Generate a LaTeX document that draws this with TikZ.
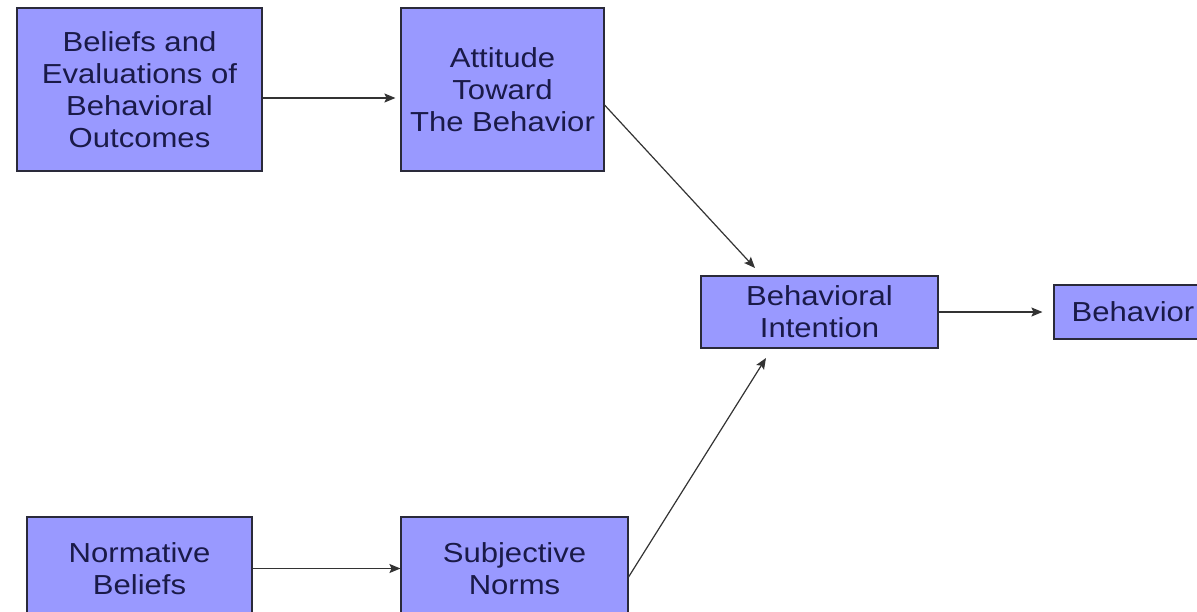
\documentclass[tikz,border=0pt]{standalone}
\usepackage{fontspec}
\setmainfont{Liberation Sans}[FakeStretch=1.13]
\usetikzlibrary{arrows.meta,calc}
\definecolor{boxfill}{HTML}{9999FF}
\definecolor{boxtext}{HTML}{1A1A48}
\definecolor{boxline}{HTML}{2A2A3A}
\definecolor{arrowline}{HTML}{333333}
\tikzset{
  tpbbox/.style={draw=boxline, line width=1.1pt, fill=boxfill, text=boxtext,
    align=center, inner sep=0pt,
    font=\fontsize{27.5pt}{32pt}\selectfont},
  tpbarrow/.style={draw=arrowline, line width=1.2pt,
    -{Stealth[length=11pt,width=9pt,inset=2pt]}}
}
\begin{document}
\begin{tikzpicture}[x=1pt,y=-1pt]
\useasboundingbox (0,0) rectangle (1197,611);
\clip (0,0) rectangle (1197,611);
\fill[white] (0,0) rectangle (1197,611);
\node[tpbbox, minimum width=245pt, minimum height=163pt] (beliefs) at (139.5,89.5)
  {Beliefs and\\Evaluations of\\Behavioral\\Outcomes};
\node[tpbbox, minimum width=203pt, minimum height=163pt] (attitude) at (502.5,89.5)
  {Attitude\\Toward\\The Behavior};
\node[tpbbox, minimum width=237pt, minimum height=72pt] (intention) at (819.5,312)
  {Behavioral\\Intention};
\node[tpbbox, minimum width=158pt, minimum height=54pt] (behavior) at (1133,312)
  {Behavior};
\node[tpbbox, minimum width=225pt, minimum height=103pt] (normative) at (139.5,568.5)
  {Normative\\Beliefs};
\node[tpbbox, minimum width=227pt, minimum height=103pt] (subjective) at (514.5,568.5)
  {Subjective\\Norms};
\coordinate (a1s) at ($(beliefs.east)+(0,8.5)$);
\coordinate (a1e) at ($(attitude.west)+(-5,8.5)$);
\draw[tpbarrow] (a1s) -- (a1e);
\coordinate (a2s) at ($(attitude.east)+(0,15.5)$);
\coordinate (a2e) at (755,268);
\draw[tpbarrow] (a2s) -- (a2e);
\coordinate (a3s) at ($(subjective.east)+(0,8.5)$);
\coordinate (a3e) at (766,358);
\draw[tpbarrow] (a3s) -- (a3e);
\coordinate (a4e) at ($(behavior.west)+(-11,0)$);
\draw[tpbarrow] (intention.east) -- (a4e);
\draw[tpbarrow] (normative.east) -- (subjective.west);
\end{tikzpicture}
\end{document}
